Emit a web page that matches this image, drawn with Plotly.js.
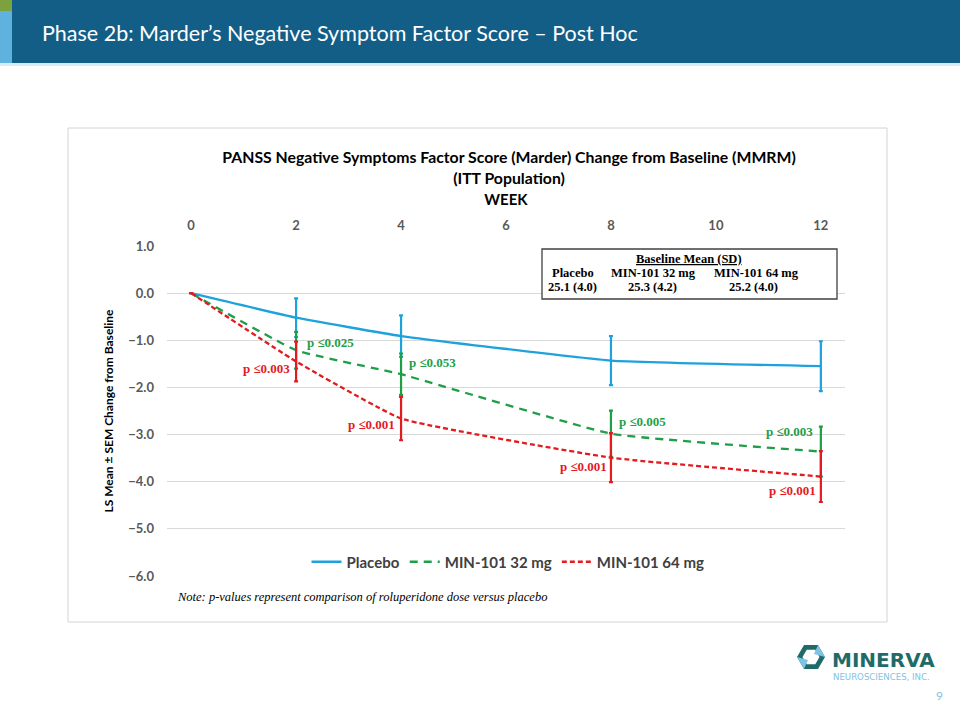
<!DOCTYPE html>
<html><head><meta charset="utf-8">
<script src="https://cdn.plot.ly/plotly-3.0.1.min.js"></script>
<style>html,body{margin:0;padding:0;background:#fff}#chart{width:960px;height:720px}</style>
</head><body><div id="chart"></div><script>
// ---------- data ----------
const weeks = [0, 2, 4, 8, 12];
const seriesNames = ['Placebo', 'MIN-101 32 mg', 'MIN-101 64 mg'];
const placeboMean = [0, -0.52, -0.91, -1.43, -1.55];
const placeboSEM  = [0, 0.41, 0.44, 0.52, 0.53];
const mg32Mean = [0, -1.21, -1.72, -2.98, -3.36];
const mg32SEM  = [0, 0.39, 0.44, 0.49, 0.53];
const mg64Mean = [0, -1.45, -2.66, -3.49, -3.89];
const mg64SEM  = [0, 0.42, 0.46, 0.52, 0.54];
const pValues32 = ['', 'p \u22640.025', 'p \u22640.053', 'p \u22640.005', 'p \u22640.003'];
const pValues64 = ['', 'p \u22640.003', 'p \u22640.001', 'p \u22640.001', 'p \u22640.001'];
const xTickVals = [0, 2, 4, 6, 8, 10, 12];
const yTickVals = [1, 0, -1, -2, -3, -4, -5, -6];
const baselineGroups = ['Placebo', 'MIN-101 32 mg', 'MIN-101 64 mg'];
const baselineValues = ['25.1 (4.0)', '25.3 (4.2)', '25.2 (4.0)'];

// ---------- styling / layout helpers ----------
const W = 960, H = 720;
const M = {l: 167, r: 115, t: 246, b: 144};
const PW = W - M.l - M.r, PH = H - M.t - M.b;
const X = px => (px - M.l) / PW;
const Y = py => (H - M.b - py) / PH;
const colors = ['#1ea2dc', '#1f9e48', '#e31b1f'];
const calibri = 'Lato, "Open Sans", sans-serif';
const times = '"Liberation Serif", "Times New Roman", serif';

function trace(name, y, sem, color, dash, width) {
  return {
    x: weeks, y: y, name: name, type: 'scatter', mode: 'lines',
    line: {color: color, width: width, dash: dash, shape: 'spline', smoothing: 0.35},
    error_y: {type: 'data', array: sem, symmetric: true, color: color, thickness: 2.2, width: 2},
    hoverinfo: 'skip'
  };
}
const data = [
  trace(seriesNames[0], placeboMean, placeboSEM, colors[0], 'solid', 2.3),
  trace(seriesNames[1], mg32Mean, mg32SEM, colors[1], '8px,6px', 2.3),
  trace(seriesNames[2], mg64Mean, mg64SEM, colors[2], '5px,3px', 2.3)
];

// p-value label offsets (pixels) relative to their data point
const off32 = [null, [34, 8], [31, 12], [32, 12], [-31, 20]];
const off64 = [null, [-30, -7], [-30, -6], [-27, -9], [-28, -14]];
const annotations = [];
function pLabels(texts, means, offs, color) {
  texts.forEach((t, i) => {
    if (!t) return;
    annotations.push({x: weeks[i], y: means[i], xref: 'x', yref: 'y', text: '<b>' + t + '</b>',
      showarrow: false, xanchor: 'center', yanchor: 'middle', xshift: offs[i][0], yshift: offs[i][1],
      font: {family: times, size: 13, color: color}});
  });
}
pLabels(pValues32, mg32Mean, off32, colors[1]);
pLabels(pValues64, mg64Mean, off64, colors[2]);

// header title
annotations.push({xref: 'paper', yref: 'paper', x: X(40), y: Y(33), xanchor: 'left', yanchor: 'middle',
  text: 'Phase 2b: Marder\u2019s Negative Symptom Factor Score \u2013 Post Hoc', showarrow: false,
  font: {family: calibri, size: 21.5, color: '#ffffff'}});
// baseline box texts
annotations.push({xref: 'paper', yref: 'paper', x: X(689), y: Y(259), xanchor: 'center', yanchor: 'middle',
  text: '<b><u>Baseline Mean (SD)</u></b>', showarrow: false, borderpad: 0, font: {family: times, size: 12.5, color: '#000'}});
const grpX = [573, 653, 756], valX = [572, 652, 753];
baselineGroups.forEach((g, i) => {
  annotations.push({xref: 'paper', yref: 'paper', x: X(grpX[i]), y: Y(273), xanchor: 'center', yanchor: 'middle',
    text: '<b>' + g + '</b>', showarrow: false, borderpad: 0, font: {family: times, size: 12.5, color: '#000'}});
  annotations.push({xref: 'paper', yref: 'paper', x: X(valX[i]), y: Y(287), xanchor: 'center', yanchor: 'middle',
    text: '<b>' + baselineValues[i] + '</b>', showarrow: false, borderpad: 0, font: {family: times, size: 12.5, color: '#000'}});
});
// note
annotations.push({xref: 'paper', yref: 'paper', x: X(175), y: Y(597), xanchor: 'left', yanchor: 'middle',
  text: '<i>Note: p-values represent comparison of roluperidone dose versus placebo</i>', showarrow: false,
  font: {family: times, size: 12.5, color: '#000'}});
// logo text + page number
annotations.push({xref: 'paper', yref: 'paper', x: X(830), y: Y(660), xanchor: 'left', yanchor: 'middle',
  text: '<b>MINERVA</b>', showarrow: false, font: {family: '"DejaVu Sans", sans-serif', size: 20, color: '#1f6b6a'}});
annotations.push({xref: 'paper', yref: 'paper', x: X(831), y: Y(677), xanchor: 'left', yanchor: 'middle',
  text: 'NEUROSCIENCES, INC.', showarrow: false, font: {family: '"DejaVu Sans", sans-serif', size: 8.6, color: '#7fc3e3'}});
annotations.push({xref: 'paper', yref: 'paper', x: X(939), y: Y(695), xanchor: 'center', yanchor: 'middle',
  text: '9', showarrow: false, font: {family: calibri, size: 12, color: '#7fc3e3'}});

function rect(x0, y0, x1, y1, fill, line, lw, layer) {
  return {type: 'rect', xref: 'paper', yref: 'paper', x0: X(x0), x1: X(x1), y0: Y(y0), y1: Y(y1),
    fillcolor: fill, line: {color: line || 'rgba(0,0,0,0)', width: lw || 0}, layer: layer || 'above'};
}
function poly(pts, fill) {
  return {type: 'path', xref: 'paper', yref: 'paper',
    path: 'M' + pts.map(p => X(p[0]) + ',' + Y(p[1])).join('L') + 'Z',
    fillcolor: fill, line: {width: 0}, layer: 'above'};
}
// logo hexagon
const cx = 811, cy = 657, R = 14, r = 8.5;
const hexO = [], hexI = [];
for (let k = 0; k < 6; k++) {
  const a = Math.PI / 3 * k;
  hexO.push([cx + R * Math.cos(a), cy - R * Math.sin(a)]);
  hexI.push([cx + r * Math.cos(a), cy - r * Math.sin(a)]);
}
const hexRing = {type: 'path', xref: 'paper', yref: 'paper',
  path: 'M' + hexO.map(p => X(p[0]) + ',' + Y(p[1])).join('L') + 'Z ' +
        'M' + hexI.slice().reverse().map(p => X(p[0]) + ',' + Y(p[1])).join('L') + 'Z',
  fillcolor: '#1f6b6a', line: {width: 0}, layer: 'above'};

const shapes = [
  rect(68, 128, 887, 622, 'rgba(0,0,0,0)', '#d4d4d4', 1, 'below'),
  rect(0, 0, 960, 63, '#135e87'),
  rect(0, 63, 960, 66, '#d6ecf5'),
  rect(0, 0, 12, 11, '#7ba23f'),
  rect(0, 11, 12, 63, '#5eb2dd'),
  rect(542, 249, 837, 299, '#ffffff', '#404040', 1.3),
  hexRing,
  poly([hexO[1], hexO[0], [cx + 3, cy - 3]], '#7fc3e3'),
  poly([hexO[4], hexO[3], [cx - 3, cy + 3]], '#7fc3e3')
];

const layout = {
  width: W, height: H, margin: M, paper_bgcolor: '#fff', plot_bgcolor: '#fff',
  showlegend: true,
  title: {text: '<b>PANSS Negative Symptoms Factor Score (Marder) Change from Baseline (MMRM)<br>(ITT Population)</b>',
    font: {family: calibri, size: 15.8, color: '#000'}, xref: 'container', yref: 'container',
    x: 509 / W, xanchor: 'center', y: 1 - 163 / H, yanchor: 'top'},
  xaxis: {side: 'top', range: [-0.46, 12.46], tickvals: xTickVals, showgrid: false, zeroline: false,
    showline: false, ticks: '', ticklabelstandoff: 12,
    tickfont: {family: calibri, size: 13, color: '#595959', weight: 700},
    title: {text: '<b>WEEK</b>', font: {family: calibri, size: 15, color: '#000'}, standoff: 8}},
  yaxis: {range: [-6, 1], tickvals: yTickVals, tickformat: '.1f', showgrid: true, gridcolor: '#d9d9d9',
    gridwidth: 1, zeroline: false, showline: false, ticks: '', ticklabelstandoff: 12,
    tickfont: {family: calibri, size: 13, color: '#595959', weight: 700},
    title: {text: '<b>LS Mean \u00b1 SEM Change from Baseline</b>', font: {family: calibri, size: 12, color: '#000'}, standoff: 12}},
  legend: {orientation: 'h', x: X(508), xanchor: 'center', y: Y(562), yanchor: 'middle',
    bgcolor: 'rgba(0,0,0,0)', font: {family: calibri, size: 15, color: '#404040', weight: 700},
    itemwidth: 30, tracegroupgap: 0},
  annotations: annotations, shapes: shapes
};
Plotly.newPlot('chart', data, layout, {displayModeBar: false, staticPlot: true});
</script></body></html>
